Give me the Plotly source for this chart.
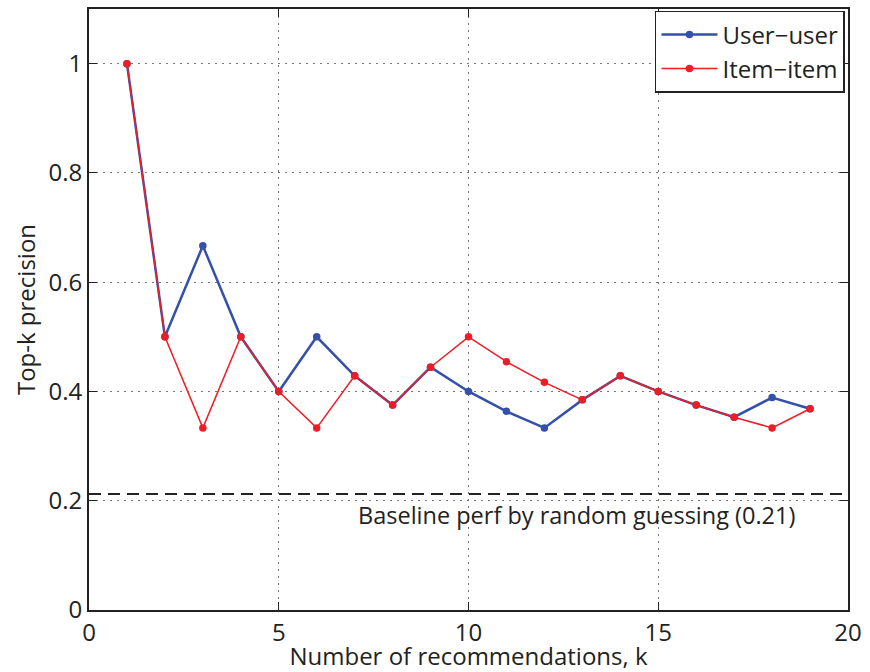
import plotly.graph_objects as go

k = list(range(1, 20))
user_user = [1.0, 0.5, 0.6667, 0.5, 0.4, 0.5, 0.4286, 0.375, 0.4444, 0.4,
             0.3636, 0.3333, 0.3846, 0.4286, 0.4, 0.375, 0.3529, 0.3889, 0.3684]
item_item = [1.0, 0.5, 0.3333, 0.5, 0.4, 0.3333, 0.4286, 0.375, 0.4444, 0.5,
             0.4545, 0.4167, 0.3846, 0.4286, 0.4, 0.375, 0.3529, 0.3333, 0.3684]
baseline = 0.2125
baseline_x = [0, 20]
baseline_label = "Baseline perf by random guessing (0.21)"
x_title = "Number of recommendations, k"
y_title = "Top-k precision"

FONT = "Open Sans"
BLUE = "#3450a8"
RED = "#ee1d25"
INK = "#222222"

fig = go.Figure()
fig.add_trace(go.Scatter(x=baseline_x, y=[baseline, baseline], mode="lines",
                         line=dict(color=INK, width=2, dash="12px,7px"),
                         showlegend=False, hoverinfo="skip"))
fig.add_trace(go.Scatter(x=k, y=user_user, mode="lines+markers", name="User\u2212user",
                         line=dict(color=BLUE, width=2.5),
                         marker=dict(color=BLUE, size=7.5)))
fig.add_trace(go.Scatter(x=k, y=item_item, mode="lines+markers", name="Item\u2212item",
                         line=dict(color=RED, width=1.5),
                         marker=dict(color=RED, size=7.5)))

fig.add_annotation(x=12.85, y=0.173, text=baseline_label, showarrow=False,
                   font=dict(family=FONT, size=23.5, color=INK))

axis_common = dict(showline=True, linecolor=INK, linewidth=2, mirror="ticks",
                   ticks="inside", ticklen=8, tickcolor=INK, tickwidth=1,
                   showgrid=True, gridcolor="#777777", griddash="1.5px,5.5px", gridwidth=1,
                   zeroline=False, tickfont=dict(family=FONT, size=24, color=INK))

fig.update_xaxes(range=[0, 20], tick0=0, dtick=5,
                 title=dict(text=x_title, standoff=0,
                            font=dict(family=FONT, size=24, color=INK)),
                 **axis_common)
fig.update_yaxes(range=[0, 1.1], tickvals=[0, 0.2, 0.4, 0.6, 0.8, 1],
                 ticktext=["0", "0.2", "0.4", "0.6", "0.8", "1"],
                 title=dict(text=y_title, standoff=6,
                            font=dict(family=FONT, size=24, color=INK)),
                 **axis_common)

fig.update_layout(width=870, height=672,
                  margin=dict(l=89, r=22, t=7, b=61),
                  paper_bgcolor="white", plot_bgcolor="white",
                  legend=dict(x=0.996, y=0.997, xanchor="right", yanchor="top",
                              bordercolor=INK, borderwidth=1.5,
                              bgcolor="white", itemwidth=56,
                              font=dict(family=FONT, size=24, color=INK),
                              tracegroupgap=0))

fig.write_html("out.html")
